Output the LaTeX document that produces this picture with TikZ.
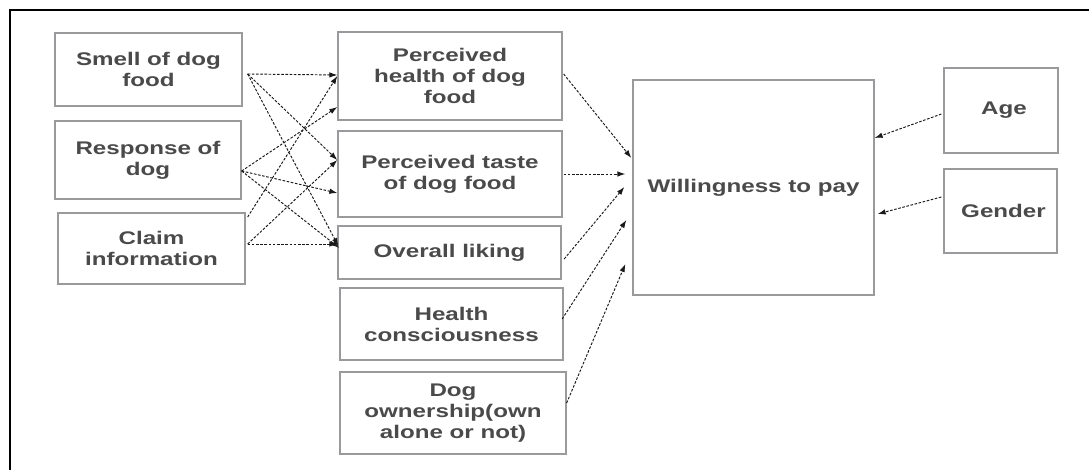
\documentclass[tikz,border=0pt]{standalone}
\usepackage{fontspec}
\setmainfont[FakeStretch=1.32]{Liberation Sans}
\usetikzlibrary{arrows.meta}
\definecolor{boxgray}{HTML}{9A9A9E}
\definecolor{txtgray}{HTML}{4A4A4A}
\begin{document}
\begin{tikzpicture}[x=1pt,y=-1pt,
  box/.style={draw=boxgray,line width=1.3pt,fill=white,inner sep=0pt,align=center,
    text=txtgray,font=\fontsize{18.3}{21}\selectfont\bfseries},
  link/.style={draw=black!90,line width=0.95pt,dash pattern=on 2.6pt off 1.6pt,
    -{Latex[length=8pt,width=5.5pt]}}]
\useasboundingbox (0,0) rectangle (1089,470);
\fill[white] (0,0) rectangle (1089,470);
\draw[line width=2pt,line cap=rect] (10,470) -- (10,10) -- (1089,10);
% left column
\node[box,minimum width=187pt,minimum height=73pt] (smell) at (148.5,69.5) {Smell of dog\\food};
\node[box,minimum width=186pt,minimum height=78pt] (resp) at (148,160) {Response of\\dog};
\node[box,minimum width=187pt,minimum height=71pt] (claim) at (151.5,248.5) {Claim\\information};
% middle column
\node[box,minimum width=224pt,minimum height=88pt] (ph) at (450,76) {Perceived\\health of dog\\food};
\node[box,minimum width=224pt,minimum height=86pt] (pt) at (450,174) {Perceived taste\\of dog food};
\node[box,minimum width=223pt,minimum height=53pt] (ol) at (449.5,252.5) {Overall liking};
\node[box,minimum width=223pt,minimum height=72pt] (hc) at (451.5,324) {Health\\consciousness};
\node[box,minimum width=226pt,minimum height=82pt] (do) at (453,413) {Dog\\ownership(own\\alone or not)};
% right
\node[box,minimum width=241pt,minimum height=215pt] (wtp) at (753.5,187.5) {Willingness to pay};
\node[box,minimum width=114pt,minimum height=85pt] (age) at (1001,110.5) {\hspace*{6pt}Age};
\node[box,minimum width=113pt,minimum height=84pt] (gender) at (1000.5,211) {\hspace*{6pt}Gender};
% left -> middle
\draw[link] ([shift={(5,4.5)}]smell.east) -- ([shift={(0,-1)}]ph.west);
\draw[link] ([shift={(5,4.5)}]smell.east) -- ([shift={(0,-14)}]pt.west);
\draw[link] ([shift={(5,4.5)}]smell.east) -- ([shift={(1,-6.5)}]ol.west);
\draw[link] ([shift={(0,11)}]resp.east) -- ([shift={(0,31)}]ph.west);
\draw[link] ([shift={(0,11)}]resp.east) -- ([shift={(0,19)}]pt.west);
\draw[link] ([shift={(0,11)}]resp.east) -- ([shift={(2,-4.5)}]ol.west);
\draw[link] ([shift={(2,-31.5)}]claim.east) -- ([shift={(0,0)}]ph.west);
\draw[link] ([shift={(2,-4.5)}]claim.east) -- ([shift={(0,-14)}]pt.west);
\draw[link] ([shift={(2,-4.5)}]claim.east) -- ([shift={(0,-8.5)}]ol.west);
% middle -> wtp
\draw[link] ([shift={(1,-2)}]ph.east) -- ([shift={(-1,-29.5)}]wtp.west);
\draw[link] ([shift={(1,0)}]pt.east) -- ([shift={(-7,-13.5)}]wtp.west);
\draw[link] ([shift={(2.5,6.5)}]ol.east) -- ([shift={(-8,-0.5)}]wtp.west);
\draw[link] ([shift={(-1.5,-5)}]hc.east) -- ([shift={(-6,32.5)}]wtp.west);
\draw[link] ([shift={(0,-10)}]do.east) -- ([shift={(-7,76.5)}]wtp.west);
% covariates -> wtp
\draw[link] ([shift={(-2,3.5)}]age.west) -- ([shift={(0,-49.5)}]wtp.east);
\draw[link] ([shift={(-2,-14)}]gender.west) -- ([shift={(3,26.5)}]wtp.east);
\end{tikzpicture}
\end{document}
